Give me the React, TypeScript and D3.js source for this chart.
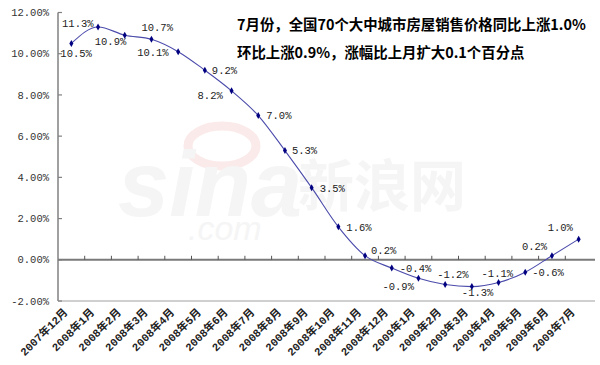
import React, { useEffect, useRef } from 'react';
import * as d3 from 'd3';

const categories = [
  '2007年12月', '2008年1月', '2008年2月', '2008年3月', '2008年4月', '2008年5月',
  '2008年6月', '2008年7月', '2008年8月', '2008年9月', '2008年10月', '2008年11月',
  '2008年12月', '2009年1月', '2009年2月', '2009年3月', '2009年4月', '2009年5月',
  '2009年6月', '2009年7月'
];
const values = [
  10.5, 11.3, 10.9, 10.7, 10.1, 9.2, 8.2, 7.0, 5.3, 3.5, 1.6, 0.2,
  -0.4, -0.9, -1.2, -1.3, -1.1, -0.6, 0.2, 1.0
];
const yTicks = [-2, 0, 2, 4, 6, 8, 10, 12];
const titleLines = [
  '7月份，全国70个大中城市房屋销售价格同比上涨1.0%',
  '环比上涨0.9%，涨幅比上月扩大0.1个百分点'
];
// where each value label sits relative to its point (left edge, vertical centre)
const labelOffsets = [
  [-11, 10], [-36, -4], [-30, 6], [-10, -12], [-41, 1], [7, 0], [-34, 5],
  [8, 0], [7, 0], [8, 1], [8, 1], [6, -5], [8, 0], [-36, 8], [-8, -10],
  [-10, 6], [-17, -9], [7, 0], [-30, -9], [-31, -12]
];

const width = 600;
const height = 365;
const margin = { top: 12.5, right: 8, bottom: 64, left: 58 };
const monoFont = "'Liberation Mono', 'Noto Sans CJK SC', monospace";

export default function App() {
  const ref = useRef<SVGSVGElement>(null);

  useEffect(() => {
    const svg = d3.select(ref.current);
    svg.selectAll('*').remove();

    const x = d3
      .scaleBand()
      .domain(categories)
      .range([margin.left, width - margin.right]);
    const y = d3
      .scaleLinear()
      .domain([-2, 12])
      .range([height - margin.bottom, margin.top]);

    // faint watermark
    const wm = svg.append('g');
    wm.append('ellipse')
      .attr('cx', 222).attr('cy', 146).attr('rx', 34).attr('ry', 20)
      .attr('fill', 'none').attr('stroke', '#fbeaea').attr('stroke-width', 9);
    wm.append('text')
      .attr('x', 118).attr('y', 216)
      .attr('font-family', 'Arial, sans-serif').attr('font-style', 'italic')
      .attr('font-weight', 'bold').attr('font-size', 92)
      .attr('fill', '#f5f5f5').text('sina');
    wm.append('text')
      .attr('x', 298).attr('y', 206)
      .attr('font-family', "'Noto Sans CJK SC'").attr('font-weight', 'bold')
      .attr('font-size', 56).attr('fill', '#f5f5f5').text('新浪网');
    wm.append('text')
      .attr('x', 188).attr('y', 240)
      .attr('font-family', 'Arial, sans-serif').attr('font-style', 'italic')
      .attr('font-size', 34).attr('fill', '#f5f5f5').text('.com');

    const axisColor = '#808080';

    // y axis line and bottom border
    svg.append('line')
      .attr('x1', margin.left).attr('x2', margin.left)
      .attr('y1', y(12)).attr('y2', y(-2))
      .attr('stroke', axisColor).attr('stroke-width', 1.5);
    svg.append('line')
      .attr('x1', margin.left).attr('x2', width - 5)
      .attr('y1', y(-2)).attr('y2', y(-2))
      .attr('stroke', '#a0a0a0').attr('stroke-width', 1);

    const yg = svg.append('g');
    yg.selectAll('line')
      .data(yTicks)
      .join('line')
      .attr('x1', margin.left).attr('x2', margin.left + 4)
      .attr('y1', d => y(d)).attr('y2', d => y(d))
      .attr('stroke', axisColor).attr('stroke-width', 1.2);
    yg.selectAll('text')
      .data(yTicks)
      .join('text')
      .attr('x', margin.left - 9)
      .attr('y', d => y(d))
      .attr('dy', '0.35em')
      .attr('text-anchor', 'end')
      .attr('font-family', monoFont)
      .attr('font-size', 10.5)
      .attr('fill', '#333')
      .text(d => `${d.toFixed(2)}%`);

    // zero line with category ticks
    svg.append('line')
      .attr('x1', margin.left).attr('x2', width - 5)
      .attr('y1', y(0)).attr('y2', y(0))
      .attr('stroke', '#7a7a7a').attr('stroke-width', 2);
    svg.append('g')
      .selectAll('line')
      .data(categories.slice(1))
      .join('line')
      .attr('x1', d => x(d)!).attr('x2', d => x(d)!)
      .attr('y1', y(0)).attr('y2', y(0) - 4)
      .attr('stroke', '#555').attr('stroke-width', 1);

    // rotated category labels
    svg.append('g')
      .selectAll('text')
      .data(categories)
      .join('text')
      .attr('transform', d => `translate(${x(d)! + x.bandwidth() / 2 - 3},${y(-2) + 12}) rotate(-45)`)
      .attr('text-anchor', 'end')
      .attr('font-family', monoFont)
      .attr('font-size', 11)
      .attr('font-weight', 600)
      .attr('fill', '#222')
      .text(d => d);

    const cx = (i: number) => x(categories[i])! + x.bandwidth() / 2;

    const line = d3
      .line<number>()
      .x((_, i) => cx(i))
      .y(d => y(d))
      .curve(d3.curveMonotoneX);
    svg.append('path')
      .attr('d', line(values))
      .attr('fill', 'none')
      .attr('stroke', '#4b4bab')
      .attr('stroke-width', 1.1);

    svg.append('g')
      .selectAll('path')
      .data(values)
      .join('path')
      .attr('transform', (d, i) => `translate(${cx(i)},${y(d)})`)
      .attr('d', d3.symbol(d3.symbolDiamond, 14)()!)
      .attr('fill', '#000080');

    svg.append('g')
      .selectAll('text')
      .data(values)
      .join('text')
      .attr('x', (d, i) => cx(i) + labelOffsets[i][0])
      .attr('y', (d, i) => y(d) + labelOffsets[i][1])
      .attr('dy', '0.35em')
      .attr('font-family', monoFont)
      .attr('font-size', 10.5)
      .attr('fill', '#222')
      .text(d => `${d.toFixed(1)}%`);

    // title
    svg.append('g')
      .selectAll('text')
      .data(titleLines)
      .join('text')
      .attr('x', 237)
      .attr('y', (d, i) => 30 + i * 28)
      .attr('font-family', "'Noto Sans CJK SC', sans-serif")
      .attr('font-weight', 'bold')
      .attr('font-size', 14.4)
      .attr('fill', '#000')
      .text(d => d);
  }, []);

  return (
    <svg
      ref={ref}
      width={width}
      height={height}
      style={{ position: 'absolute', left: 0, top: 0, background: '#fff' }}
    />
  );
}
